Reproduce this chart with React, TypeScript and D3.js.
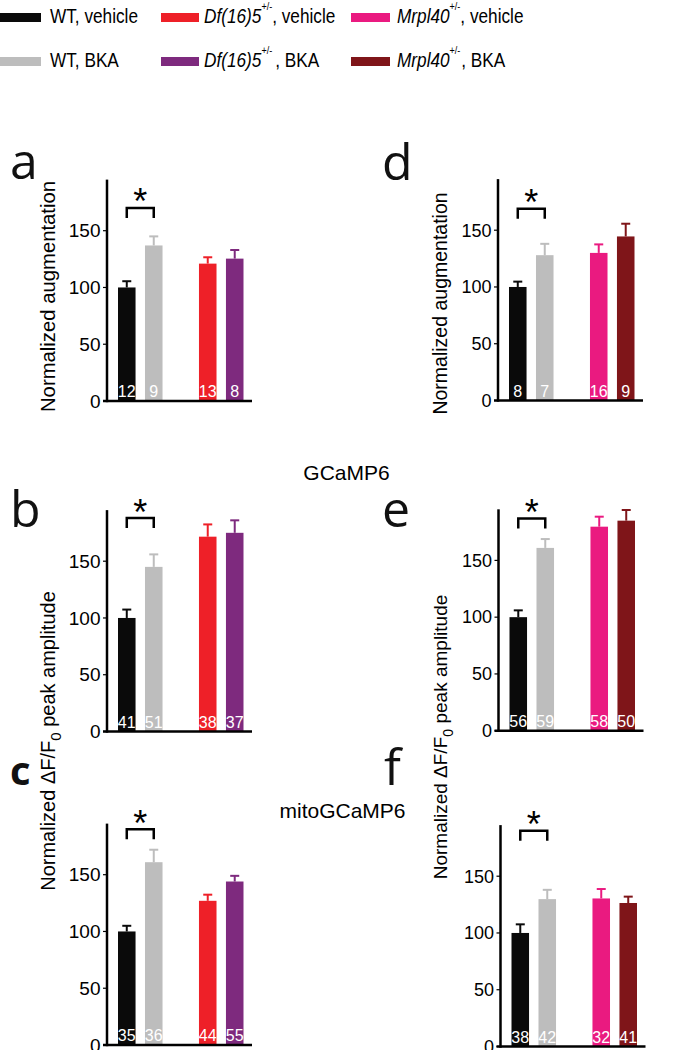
import React from "react";
import * as d3 from "d3";

// ---------- data ----------
const groupLabels = ["WT, vehicle", "WT, BKA", "Df(16)5 vehicle", "Df(16)5 BKA", "Mrpl40 vehicle", "Mrpl40 BKA"];
const groupColors = ["#0a0a0a", "#bdbdbd", "#ee2028", "#7e2a7e", "#ea1a80", "#7f1519"];

const yTicks = [0, 50, 100, 150];

// panel a (Df, normalized augmentation)
const aMeans = [100, 137, 121, 125.4];
const aSems = [5.5, 8, 5.6, 7.6];
const aN = [12, 9, 13, 8];
// panel b (Df, GCaMP6 peak)
const bMeans = [100, 145, 171.6, 175];
const bSems = [7.4, 11, 10.8, 11];
const bN = [41, 51, 38, 37];
// panel c (Df, mitoGCaMP6 peak)
const cMeans = [100, 161, 127, 144];
const cSems = [5, 11, 5.4, 5];
const cN = [35, 36, 44, 55];
// panel d (Mrpl40, normalized augmentation)
const dMeans = [100, 128, 130, 144.5];
const dSems = [4.7, 10, 7.5, 11.2];
const dN = [8, 7, 16, 9];
// panel e (Mrpl40, GCaMP6 peak)
const eMeans = [100, 161, 179.7, 185];
const eSems = [6, 7.8, 8.8, 9.4];
const eN = [56, 59, 58, 50];
// panel f (Mrpl40, mitoGCaMP6 peak)
const fMeans = [100, 129.8, 130.4, 126.4];
const fSems = [7.6, 8.2, 8.3, 5.6];
const fN = [38, 42, 32, 41];

const FONT = "Arial, 'Liberation Sans', Helvetica, sans-serif";
const LETTER_FONT = "'Open Sans', 'DejaVu Sans', sans-serif";

type PanelProps = {
  x0: number;
  y0: number;
  means: number[];
  sems: number[];
  ns: number[];
  colorIdx: number[];
  sigY: number;
  tickFont: number;
};

function Panel({ x0, y0, means, sems, ns, colorIdx, sigY, tickFont }: PanelProps) {
  const y = d3.scaleLinear().domain([0, 150]).range([y0, y0 - 170.3]);
  const slots = [0, 1, 3, 4];
  const x = d3.scaleBand<number>().domain([0, 1, 2, 3, 4]).range([x0 + 11, x0 + 136.5]).paddingInner(0.35).paddingOuter(0);
  const bw = x.bandwidth();
  const cx = (i: number) => (x(slots[i]) as number) + bw / 2;
  const yTop = y(195);
  const bx1 = cx(0);
  const bx2 = cx(1);
  const by = y(sigY);
  return (
    <g>
      {means.map((m, i) => (
        <rect key={"b" + i} x={x(slots[i])} y={y(m)} width={bw} height={y0 - y(m)} fill={groupColors[colorIdx[i]]} />
      ))}
      {means.map((m, i) => (
        <g key={"e" + i} stroke={groupColors[colorIdx[i]]} strokeWidth={2}>
          <line x1={cx(i)} x2={cx(i)} y1={y(m)} y2={y(m + sems[i])} />
          <line x1={cx(i) - 4.5} x2={cx(i) + 4.5} y1={y(m + sems[i])} y2={y(m + sems[i])} />
        </g>
      ))}
      {ns.map((n, i) => (
        <text key={"n" + i} x={cx(i)} y={y0 - 3.7} fill="#fff" fontSize={16} fontFamily={FONT} textAnchor="middle">
          {n}
        </text>
      ))}
      <line x1={x0} x2={x0} y1={y0 + 1.2} y2={yTop} stroke="#000" strokeWidth={2.5} />
      <line x1={x0 - 4} x2={x0 + 145} y1={y0} y2={y0} stroke="#000" strokeWidth={2.5} />
      {yTicks.map((t) => (
        <g key={"t" + t}>
          <line x1={x0 - 4} x2={x0} y1={y(t)} y2={y(t)} stroke="#000" strokeWidth={1.2} />
          <text x={x0 - 6.5} y={y(t)} dy="0.35em" textAnchor="end" fontSize={tickFont} fontFamily={FONT} fill="#000">
            {t}
          </text>
        </g>
      ))}
      <path d={`M${bx1},${by + 10}V${by}H${bx2}V${by + 10}`} fill="none" stroke="#000" strokeWidth={2.5} />
      <text x={(bx1 + bx2) / 2} y={by + 6.5} textAnchor="middle" fontSize={36} fontFamily={FONT} fill="#000">
        *
      </text>
    </g>
  );
}

function YLabel({ x, y, size, text, delta }: { x: number; y: number; size: number; text?: string; delta?: boolean }) {
  return (
    <text transform={`translate(${x},${y}) rotate(-90)`} textAnchor="middle" fontSize={size} fontFamily={FONT} fill="#000">
      {delta ? (
        <>
          <tspan>Normalized ΔF/F</tspan>
          <tspan fontSize={size * 0.75} dy={size * 0.3}>0</tspan>
          <tspan dy={-size * 0.3}> peak amplitude</tspan>
        </>
      ) : (
        text
      )}
    </text>
  );
}

function LegendItem({ sx, sw, y, tx, colorIdx, main, italic, suffix, supDx }: any) {
  return (
    <g>
      <rect x={sx} y={y - 10} width={sw} height={9} fill={groupColors[colorIdx]} />
      <text transform={`translate(${tx},${y}) scale(0.82,1)`} fontSize={21} fontFamily={FONT} fill="#000">
        {italic ? (
          <>
            <tspan fontStyle="italic">{main}</tspan>
            <tspan fontSize={11} dy={-13}>+/-</tspan>
            <tspan dy={13} dx={supDx}>{suffix}</tspan>
          </>
        ) : (
          main
        )}
      </text>
    </g>
  );
}

export default function App() {
  const leftIdx = [0, 1, 2, 3];
  const rightIdx = [0, 1, 4, 5];
  return (
    <svg width={696} height={1050} style={{ position: "absolute", left: 0, top: 0, background: "#fff" }}>
      <rect width={696} height={1050} fill="#fff" />
      <LegendItem sx={0} sw={41} y={23} tx={50} colorIdx={0} main={groupLabels[0]} />
      <LegendItem sx={0} sw={41} y={67} tx={50} colorIdx={1} main={groupLabels[1]} />
      <LegendItem sx={161} sw={38} y={23} tx={204} colorIdx={2} main="Df(16)5" italic suffix=", vehicle" supDx={0} />
      <LegendItem sx={161} sw={38} y={67} tx={204} colorIdx={3} main="Df(16)5" italic suffix=" , BKA" supDx={-2} />
      <LegendItem sx={351} sw={39} y={23} tx={397} colorIdx={4} main="Mrpl40" italic suffix=", vehicle" supDx={0} />
      <LegendItem sx={351} sw={39} y={67} tx={397} colorIdx={5} main="Mrpl40" italic suffix=", BKA" supDx={1} />

      <g fontFamily={LETTER_FONT} fontSize={50} fill="#111">
        <text x={10} y={179}>a</text>
        <text x={10} y={527}>b</text>
        <text x={10} y={785} fontWeight="bold" fontSize={40}>c</text>
        <text x={382} y={180}>d</text>
        <text x={382} y={527}>e</text>
        <text x={384} y={785}>f</text>
      </g>

      <text x={346.5} y={480} textAnchor="middle" fontSize={21} fontFamily={FONT} fill="#000">GCaMP6</text>
      <text x={342.5} y={818} textAnchor="middle" fontSize={21} fontFamily={FONT} fill="#000">mitoGCaMP6</text>

      <YLabel x={55} y={296.5} size={20.3} text="Normalized augmentation" />
      <YLabel x={446.7} y={303.5} size={19.5} text="Normalized augmentation" />
      <YLabel x={55} y={741} size={20} delta />
      <YLabel x={447} y={737} size={19} delta />

      <Panel x0={107} y0={401} means={aMeans} sems={aSems} ns={aN} colorIdx={leftIdx} sigY={170} tickFont={19} />
      <Panel x0={107} y0={731.5} means={bMeans} sems={bSems} ns={bN} colorIdx={leftIdx} sigY={188} tickFont={19} />
      <Panel x0={107} y0={1045} means={cMeans} sems={cSems} ns={cN} colorIdx={leftIdx} sigY={190} tickFont={19} />
      <Panel x0={498} y0={400.5} means={dMeans} sems={dSems} ns={dN} colorIdx={rightIdx} sigY={169} tickFont={18} />
      <Panel x0={498.5} y0={730.7} means={eMeans} sems={eSems} ns={eN} colorIdx={rightIdx} sigY={187} tickFont={18} />
      <Panel x0={500.5} y0={1046.5} means={fMeans} sems={fSems} ns={fN} colorIdx={rightIdx} sigY={190} tickFont={18} />
    </svg>
  );
}
